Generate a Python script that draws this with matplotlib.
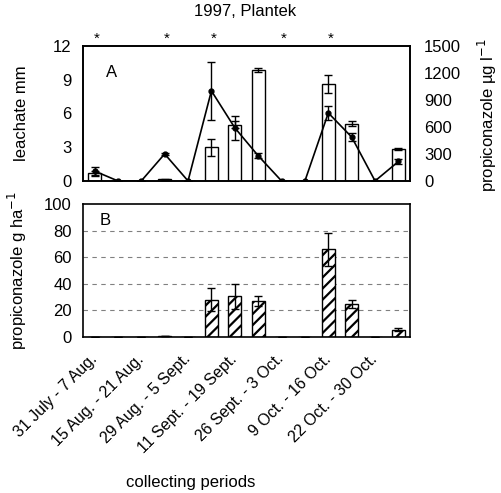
import numpy as np
import matplotlib
matplotlib.use('Agg')
import matplotlib.pyplot as plt

plt.rcParams['font.family'] = ['Liberation Sans', 'DejaVu Sans']
plt.rcParams['hatch.linewidth'] = 1.6

# 14 collecting periods, every second one labelled
periods = ['31 July - 7 Aug.', '', '15 Aug. - 21 Aug.', '', '29 Aug. - 5 Sept.', '',
           '11 Sept. - 19 Sept.', '', '26 Sept. - 3 Oct.', '', '9 Oct. - 16 Oct.', '',
           '22 Oct. - 30 Oct.', '']

# panel A: leachate (bars, mm) and concentration (line, ug/l)
leachate = [0.7, 0, 0, 0.15, 0, 3.0, 5.0, 9.85, 0, 0, 8.6, 5.1, 0, 2.85]
leachate_err = [0.2, 0, 0, 0.05, 0, 0.75, 0.3, 0.2, 0, 0, 0.8, 0.2, 0, 0.1]
conc = [110, 0, 0, 300, 0, 1000, 590, 280, 0, 0, 755, 487, 0, 216]
conc_err = [50, 0, 0, 15, 0, 325, 130, 30, 0, 0, 80, 40, 0, 30]
signif = [0, 3, 5, 8, 10]

# panel B: propiconazole load (g/ha)
load = [0.3, 0, 0, 0.8, 0, 28, 30.5, 27, 0, 0, 66, 25, 0, 5.5]
load_err = [0, 0, 0, 0, 0, 8.5, 9.5, 4, 0, 0, 12.5, 3, 0, 1]

x = np.arange(len(periods))

fig = plt.figure(figsize=(5.02, 4.93), dpi=100)
axA = fig.add_axes([0.165, 0.633, 0.652, 0.274])
axB = fig.add_axes([0.165, 0.3164, 0.652, 0.270])

# --- A ---
axA.bar(x, leachate, width=0.57, color='white', edgecolor='black', linewidth=1.0, zorder=2)
axA.errorbar(x, leachate, yerr=leachate_err, fmt='none', ecolor='black', elinewidth=1,
             capsize=3, zorder=3)
axA.set_xlim(-0.5, 13.5)
axA.set_ylim(0, 12)
axA.set_yticks([0, 3, 6, 9, 12])
axA.set_xticks([])
axA.set_ylabel('leachate mm', fontsize=12)
axA.yaxis.set_label_coords(-0.165, 0.5)
axA.tick_params(labelsize=12, length=0, pad=8)
axA.text(0.07, 0.86, 'A', transform=axA.transAxes, fontsize=12, va='top')
for i in signif:
    axA.text(x[i] + 0.1, 1.025, '*', transform=axA.get_xaxis_transform(), ha='center',
             va='baseline', fontsize=11, clip_on=False)
fig.text(0.488, 0.976, '1997, Plantek', fontsize=12, ha='center', va='center')

axA2 = axA.twinx()
axA2.plot(x, conc, color='black', marker='o', markersize=3.5, linewidth=1.2, zorder=4)
axA2.errorbar(x, conc, yerr=conc_err, fmt='none', ecolor='black', elinewidth=1, capsize=3)
axA2.set_ylim(0, 1500)
axA2.set_yticks([0, 300, 600, 900, 1200, 1500])
axA2.set_ylabel('propiconazole µg l$^{-1}$', fontsize=12, rotation=90)
axA2.yaxis.set_label_coords(1.2, 0.49)
axA2.tick_params(labelsize=12, length=0, pad=10)

# --- B ---
axB.bar(x, load, width=0.56, color='white', edgecolor='black', hatch='///', linewidth=1.0,
        zorder=2)
axB.errorbar(x, load, yerr=load_err, fmt='none', ecolor='black', elinewidth=1, capsize=3,
             zorder=3)
axB.set_xlim(-0.5, 13.5)
axB.set_ylim(0, 100)
axB.set_yticks([0, 20, 40, 60, 80, 100])
for g in [20, 40, 60, 80]:
    axB.axhline(g, color='gray', linestyle=(0, (4, 4)), linewidth=0.8, zorder=1)
axB.set_ylabel('propiconazole g ha$^{-1}$', fontsize=12)
axB.yaxis.set_label_coords(-0.165, 0.5)
axB.tick_params(labelsize=12, length=0, pad=8)
axB.text(0.05, 0.93, 'B', transform=axB.transAxes, fontsize=12, va='top')
axB.set_xticks(x)
axB.set_xticklabels(periods, rotation=45, ha='right', va='center', rotation_mode='anchor',
                    fontsize=11.5)
axB.tick_params(axis='x', pad=14)
axB.set_xlabel('collecting periods', fontsize=12)
axB.xaxis.set_label_coords(0.33, -1.04)

for ax in (axA, axA2, axB):
    for s in ax.spines.values():
        s.set_linewidth(1.2)

fig.savefig('out.png', dpi=100)
